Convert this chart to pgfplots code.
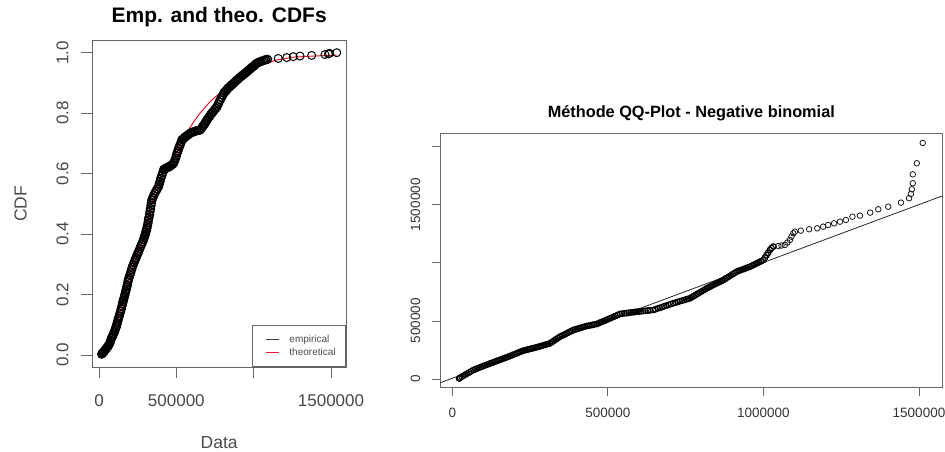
\documentclass[border=0pt]{standalone}
\usepackage{pgfplots}
\pgfplotsset{compat=1.18}
\usepackage{fontspec}
\setmainfont{Liberation Sans}
\definecolor{rred}{RGB}{232,24,44}
\begin{document}
\begin{tikzpicture}
\path[use as bounding box] (0,0) rectangle (945pt,452pt);

% --- left: empirical vs theoretical CDF ---
\begin{axis}[
  at={(92.3pt,84.7pt)}, anchor=south west,
  scale only axis, width=253.7pt, height=326.6pt,
  xmin=-43300, xmax=1597000, ymin=-0.0407, ymax=1.0397,
  scaled ticks=false,
  xtick={0,500000,1000000,1500000}, xticklabels={0,500000,,1500000},
  ytick={0,0.2,0.4,0.6,0.8,1.0}, yticklabels={0.0,0.2,0.4,0.6,0.8,1.0},
  axis line style={black!60, line width=0.8pt},
  tick style={black!60, line width=0.8pt},
  tick align=outside, major tick length=11pt,
  xtick pos=bottom, ytick pos=left,
  tick label style={font=\fontsize{17}{17}\selectfont, text=black!72, inner sep=0pt},
  xticklabel style={anchor=base, yshift=-28.4pt},
  yticklabel style={xshift=-13pt, rotate=90, anchor=base},
  title={Emp. and theo. CDFs},
  title style={font=\fontsize{21}{21}\selectfont\bfseries, at={(0.5,1)}, anchor=base, yshift=12pt, inner sep=0pt},
  xlabel={Data}, ylabel={CDF},
  xlabel style={font=\fontsize{17.5}{17.5}\selectfont, text=black!70, at={([yshift=-81pt]axis description cs:0.5,0)}, anchor=base, inner sep=0pt},
  ylabel style={font=\fontsize{17.5}{17.5}\selectfont, text=black!70, at={([xshift=-65.6pt]axis description cs:0,0.5)}, rotate=0, anchor=base, inner sep=0pt},
  legend style={at={(1,0)}, anchor=south east, draw=black!60, line width=0.8pt,
    font=\fontsize{10}{10}\selectfont, text=black!70, inner xsep=8pt, inner ysep=8pt,
    row sep=0pt, column sep=8pt, cells={anchor=west}},
  legend image code/.code={\path (-5pt,0pt); \draw[#1] (0pt,0pt)--(13pt,0pt);},
]
\addlegendimage{black!75, line width=1pt}
\addlegendentry{empirical}
\addlegendimage{rred, line width=1pt}
\addlegendentry{theoretical}

\addplot[rred, line width=1pt, forget plot] coordinates {
(17500,0.000) (60000,0.030) (100000,0.075) (150000,0.165) (200000,0.265)
(250000,0.335) (300000,0.400) (350000,0.520) (400000,0.585) (450000,0.625)
(500000,0.665) (537000,0.710) (577000,0.744) (615000,0.773) (653000,0.800)
(718000,0.838) (804000,0.877) (900000,0.918) (960000,0.940) (1020000,0.954)
(1149000,0.976) (1256000,0.985) (1386000,0.989) (1537000,0.992)
};

\addplot[only marks, mark=o, mark size=4pt, black, line width=1.4pt, forget plot] coordinates {
(17500,0.003) (22000,0.005) (26000,0.008) (30000,0.010) (35000,0.013)
(40000,0.017) (45000,0.020) (50000,0.023) (55000,0.027) (60000,0.030)
(65000,0.035) (71000,0.040) (75000,0.047) (80000,0.055) (85000,0.060)
(90000,0.065) (95000,0.071) (100000,0.077) (104000,0.083) (108000,0.089)
(112000,0.095) (115000,0.100) (118000,0.106) (122000,0.113) (125000,0.120)
(130000,0.128) (135000,0.137) (140000,0.145) (144000,0.153) (148000,0.161)
(152000,0.169) (155000,0.176) (158000,0.182) (162000,0.189) (166000,0.197)
(170000,0.205) (173000,0.211) (177000,0.218) (180000,0.225) (183000,0.232)
(186000,0.240) (190000,0.248) (194000,0.255) (200000,0.265) (205000,0.273)
(210000,0.282) (215000,0.290) (221000,0.298) (228000,0.307) (234000,0.315)
(240000,0.322) (245000,0.329) (250000,0.335) (256000,0.342) (263000,0.351)
(270000,0.360) (276000,0.367) (282000,0.374) (288000,0.381) (292000,0.388)
(296000,0.394) (300000,0.400) (303000,0.407) (307000,0.414) (310000,0.420)
(313000,0.428) (317000,0.437) (320000,0.447) (323000,0.455) (327000,0.465)
(330000,0.475) (333000,0.484) (336000,0.494) (339000,0.503) (342000,0.513)
(348000,0.520) (354000,0.528) (360000,0.535) (368000,0.542) (376000,0.549)
(385000,0.557) (390000,0.566) (395000,0.575) (400000,0.585) (406000,0.594)
(412000,0.603) (418000,0.613) (425000,0.615) (432000,0.618) (440000,0.620)
(447000,0.621) (454000,0.623) (460000,0.625) (468000,0.628) (476000,0.631)
(483000,0.635) (488000,0.641) (495000,0.650) (500000,0.659) (505000,0.668)
(510000,0.675) (515000,0.683) (520000,0.690) (526000,0.697) (532000,0.705)
(537000,0.712) (545000,0.715) (552000,0.719) (560000,0.722) (570000,0.726)
(580000,0.730) (591000,0.734) (600000,0.736) (610000,0.738) (620000,0.740)
(632000,0.742) (644000,0.743) (656000,0.745) (664000,0.751) (672000,0.757)
(680000,0.762) (686000,0.767) (693000,0.773) (699000,0.778) (707000,0.784)
(715000,0.789) (722000,0.795) (730000,0.800) (738000,0.805) (747000,0.811)
(755000,0.816) (764000,0.822) (771000,0.830) (778000,0.838) (785000,0.845)
(792000,0.852) (800000,0.859) (807000,0.866) (815000,0.871) (824000,0.876)
(832000,0.881) (840000,0.885) (848000,0.889) (856000,0.893) (864000,0.896)
(872000,0.900) (882000,0.905) (891000,0.909) (900000,0.913) (910000,0.918)
(920000,0.922) (930000,0.926) (940000,0.930) (950000,0.934) (959000,0.938)
(967000,0.942) (975000,0.945) (983000,0.949) (990000,0.952) (998000,0.955)
(1007000,0.959) (1015000,0.963) (1024000,0.966) (1035000,0.969) (1046000,0.971)
(1057000,0.973) (1068000,0.975) (1078000,0.977) (1089000,0.978)
};
\addplot[only marks, mark=o, mark size=4pt, black, line width=1pt, forget plot] coordinates {
(1159000,0.981) (1214000,0.984) (1256000,0.987) (1300000,0.989) (1375000,0.991)
(1461000,0.994) (1483000,0.996) (1490000,0.998) (1537000,1.000)
};
\end{axis}

% --- right: QQ plot ---
\begin{axis}[
  at={(440.3pt,64.3pt)}, anchor=south west,
  scale only axis, width=502pt, height=254.4pt,
  xmin=-38600, xmax=1574900, ymin=-74900, ymax=2115000,
  scaled ticks=false,
  xtick={0,500000,1000000,1500000}, xticklabels={0,500000,1000000,1500000},
  ytick={0,500000,1000000,1500000,2000000}, yticklabels={0,500000,,1500000,},
  axis line style={black!60, line width=0.8pt},
  tick style={black!60, line width=0.8pt},
  tick align=outside, major tick length=8pt,
  xtick pos=bottom, ytick pos=left,
  tick label style={font=\fontsize{13.5}{13.5}\selectfont, text=black!80, inner sep=0pt},
  xticklabel style={anchor=base, yshift=-21.6pt},
  yticklabel style={xshift=-12.3pt, rotate=90, anchor=base},
  title={Méthode QQ-Plot - Negative binomial},
  title style={font=\fontsize{16.3}{16.3}\selectfont\bfseries, at={(0.5,1)}, anchor=base, yshift=10pt, inner sep=0pt},
]
\addplot[black!85, line width=0.8pt] coordinates {(-38600,-32000) (1574900,1576000)};

\addplot[only marks, mark=o, mark size=2.8pt, black, line width=1.15pt] coordinates {
(22000,4000) (24700,11000) (30000,19200) (36000,28400) (42000,37600)
(48000,46900) (54000,56100) (60000,65400) (67500,77000) (74000,84000)
(80000,90600) (86000,97200) (92000,103700) (99600,112000) (106000,118000)
(112000,124000) (118000,130000) (124000,136000) (130000,142000) (136000,148000)
(142700,155000) (149000,161000) (155000,167000) (161000,173000) (167000,179000)
(173000,185000) (179000,191000) (185500,198000) (192000,205000) (198000,212000)
(204000,218000) (210000,224500) (216000,231000) (222000,237500) (228000,244000)
(234000,248000) (240000,252000) (246000,256000) (252000,260000) (258000,264000)
(264000,268000) (271000,273000) (277000,278000) (283000,282000) (289000,287000)
(295000,292000) (301000,297000) (307000,301500) (314000,307000) (319000,316000)
(324000,325000) (329000,334000) (334000,343000) (340000,353000) (346000,364000)
(352000,372000) (358000,380000) (364000,388000) (370000,396000) (376000,404500)
(382000,412500) (389000,422000) (395000,427000) (401000,431500) (407000,436000)
(413000,441000) (419000,446000) (425000,450500) (432000,456000) (438000,459000)
(444000,462000) (450000,465500) (456000,469000) (464000,473000) (470000,480000)
(476000,487000) (482000,493500) (488000,500000) (494000,507000) (500000,514000)
(507000,522000) (513000,529000) (519000,536000) (525000,543000) (531000,550500)
(539000,560000) (546000,562500) (553000,565000) (560000,567000) (567000,570000)
(574000,572500) (581000,575000) (587000,577000) (593000,579000) (600000,581000)
(607000,583000) (614000,585000) (621000,587000) (628000,589000) (635000,591000)
(646000,594000) (653000,600000) (660000,607000) (667000,613000) (674000,619000)
(681000,626000) (688000,632000) (695000,638000) (702000,645000) (710000,652000)
(717000,657500) (724000,663000) (731000,669000) (738000,674000) (745000,680000)
(752000,685500) (758000,690000) (764000,695000) (770000,704500) (776000,714000)
(782000,723500) (788000,733000) (794000,743000) (800000,752000) (806000,762000)
(812000,771500) (818000,781000) (824000,789000) (830000,797000) (836000,805000)
(842000,813000) (848000,821000) (854000,829000) (860000,837000) (866000,845000)
(871000,852000) (877000,862000) (883000,872000) (889000,882000) (895000,892000)
(901000,902000) (907000,912000) (914000,924000) (920000,930000) (926000,936000)
(932000,942000) (938000,948000) (944000,954000) (950000,960000) (957000,967000)
(963000,975000) (969000,983000) (975000,991000) (981000,999000) (987000,1007000)
(993000,1015000) (1000000,1024000) (1005000,1045000) (1010000,1066000) (1015000,1086000)
(1021000,1111000) (1026000,1128000) (1032000,1140000)
};
\addplot[only marks, mark=o, mark size=2.8pt, black!90, line width=0.8pt] coordinates {
(1048000,1145000) (1058000,1149000)
(1069000,1154000) (1077000,1175000) (1085000,1197000) (1090000,1225000) (1096000,1254000)
(1101000,1268000) (1120000,1277000) (1147000,1289000) (1173000,1297000) (1192000,1311000)
(1208000,1326000) (1227000,1340000) (1246000,1354000) (1265000,1369000) (1286000,1397000)
(1310000,1406000) (1343000,1432000) (1369000,1461000) (1401000,1483000) (1442000,1518000)
(1468000,1556000) (1474000,1593000) (1477000,1633000) (1480000,1685000) (1480000,1762000)
(1493000,1857000) (1512000,2032000)
};
\end{axis}
\end{tikzpicture}
\end{document}
